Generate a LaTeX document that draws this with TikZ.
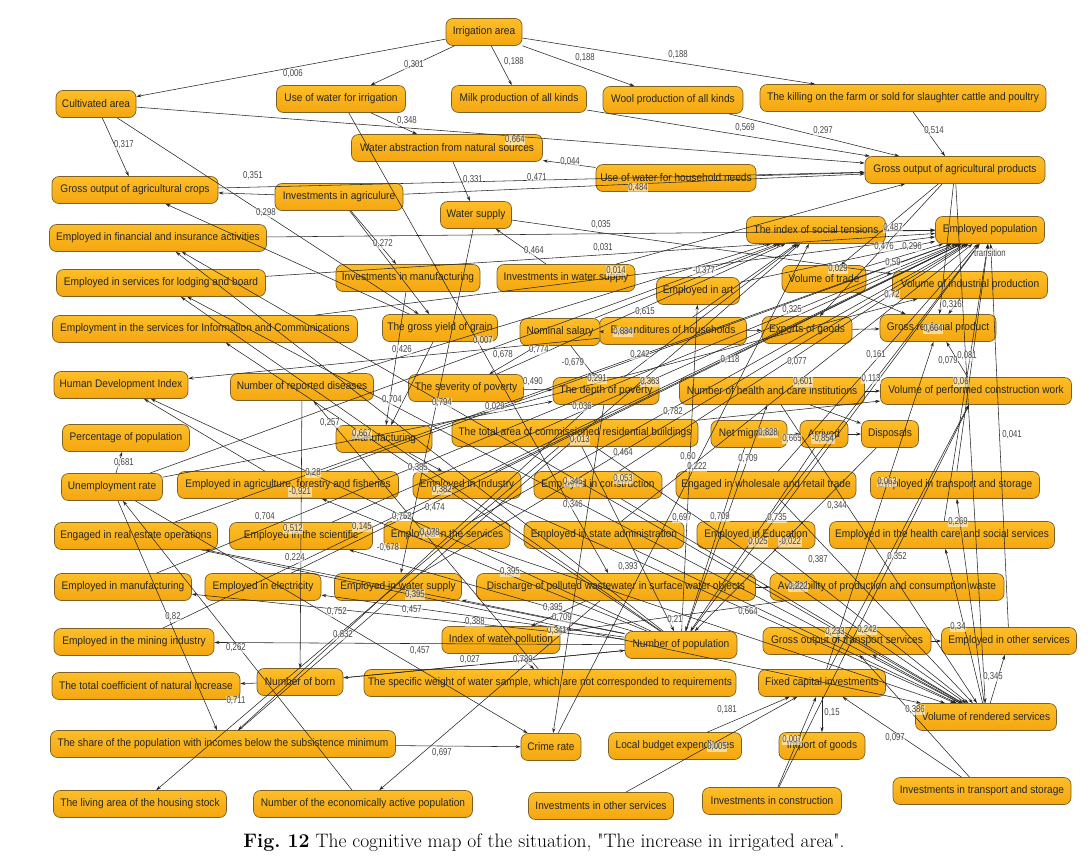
\documentclass[tikz,border=0pt]{standalone}
\usepackage{fontspec}
\usepackage{graphicx}
\newfontfamily\nodefont[FakeStretch=0.92]{Liberation Sans}
\newfontfamily\labfont[FakeStretch=0.78]{Liberation Sans}
\usetikzlibrary{arrows.meta}
\definecolor{boxtop}{RGB}{253,190,40}
\definecolor{boxbot}{RGB}{244,166,16}
\definecolor{boxline}{RGB}{125,95,40}
\definecolor{labgray}{RGB}{70,70,70}
\tikzset{
 nb/.style={draw=boxline, line width=0.7pt, rounded corners=7pt, top color=boxtop, bottom color=boxbot, minimum height=27pt, inner xsep=2pt, inner ysep=2pt, font=\nodefont\fontsize{11}{12}\selectfont, text=black!85},
 e/.style={draw=black!85, line width=0.55pt, -{Stealth[length=5pt,width=3.2pt]}},
 lab/.style={font=\labfont\fontsize{10}{11}\selectfont, text=labgray, inner sep=0.5pt, fill=white, fill opacity=0.55, text opacity=1},
}
\begin{document}
\begin{tikzpicture}[x=1pt,y=-1pt]
\fill[white] (0,0) rectangle (1091,863);
\useasboundingbox (0,0) rectangle (1091,863);
% nodes
\node[nb,minimum width=76pt] (irr) at (484,32) {Irrigation area};
\node[nb,minimum width=80pt] (cult) at (96,104) {Cultivated area};
\node[nb,minimum width=129pt] (usewi) at (341,99) {Use of water for irrigation};
\node[nb,minimum width=135pt] (milk) at (519,99) {Milk production of all kinds};
\node[nb,minimum width=140pt] (wool) at (673,100) {Wool production of all kinds};
\node[nb,minimum width=286pt] (kill) at (903,98) {The killing on the farm or sold for slaughter cattle and poultry};
\node[nb,minimum width=191pt] (wabs) at (447,148) {Water abstraction from natural sources};
\node[nb,minimum width=166pt] (goac) at (135,190) {Gross output of agricultural crops};
\node[nb,minimum width=128pt] (inva) at (339,197) {Investments in agriculure};
\node[nb,minimum width=160pt] (usehh) at (676,178) {Use of water for household needs};
\node[nb,minimum width=180pt] (goap) at (955,170) {Gross output of agricultural products};
\node[nb,minimum width=71pt] (wsup) at (476,215) {Water supply};
\node[nb,minimum width=217pt] (fin) at (158,238) {Employed in financial and insurance activities};
\node[nb,minimum width=139pt] (ist) at (816,230) {The index of social tensions};
\node[nb,minimum width=109pt] (emppop) at (990,230) {Employed population};
\node[nb,minimum width=209pt] (lodg) at (161,283) {Employed in services for lodging and board};
\node[nb,minimum width=144pt] (invman) at (408,278) {Investments in manufacturing};
\node[nb,minimum width=138pt] (invws) at (566,278) {Investments in water supply};
\node[nb,minimum width=83pt] (art) at (698,291) {Employed in art};
\node[nb,minimum width=84pt] (trade) at (824,279) {Volume of trade};
\node[nb,minimum width=155pt] (vip) at (970,285) {Volume of industrial production};
\node[nb,minimum width=305pt] (info) at (205,329) {Employment in the services for Information and Communications};
\node[nb,minimum width=115pt] (grain) at (440,328) {The gross yield of grain};
\node[nb,minimum width=147pt] (exph) at (673,331) {Expenditures of households};
\node[nb,minimum width=80pt] (salary) at (560,332) {Nominal salary};
\node[nb,minimum width=90pt] (exports) at (807,330) {Exports of goods};
\node[nb,minimum width=116pt] (grp) at (938,328) {Gross regional product};
\node[nb,minimum width=134pt] (hdi) at (121,385) {Human Development Index};
\node[nb,minimum width=143pt] (dis) at (302,387) {Number of reported diseases};
\node[nb,minimum width=115pt] (sev) at (466,388) {The severity of poverty};
\node[nb,minimum width=106pt] (depth) at (606,391) {The depth of poverty};
\node[nb,minimum width=185pt] (hci) at (772,391) {Number of health and care institutions};
\node[nb,minimum width=191pt] (vpcw) at (976,391) {Volume of performed construction work};
\node[nb,minimum width=127pt] (pct) at (126,438) {Percentage of population};
\node[nb,minimum width=96pt] (manf) at (384,439) {Manufacturing};
\node[nb,minimum width=246pt] (tacr) at (575,433) {The total area of commissioned residential buildings};
\node[nb,minimum width=76pt] (netm) at (749,434) {Net migration};
\node[nb,minimum width=48pt] (arr) at (824,434) {Arrived};
\node[nb,minimum width=57pt] (disp) at (890,434) {Disposals};
\node[nb,minimum width=101pt] (unemp) at (112,487) {Unemployment rate};
\node[nb,minimum width=221pt] (eagri) at (288,485) {Employed in agriculture, forestry and fisheries};
\node[nb,minimum width=108pt] (eind) at (467,485) {Employed in Industry};
\node[nb,minimum width=128pt] (econst) at (598,485) {Employed in construction};
\node[nb,minimum width=180pt] (wret) at (766,485) {Engaged in wholesale and retail trade};
\node[nb,minimum width=169pt] (etrans) at (955,485) {Employed in transport and storage};
\node[nb,minimum width=163pt] (realest) at (136,536) {Engaged in real estate operations};
\node[nb,minimum width=143pt] (esci) at (301,536) {Employed in the scientific};
\node[nb,minimum width=126pt] (eserv) at (447,535) {Employed in the services};
\node[nb,minimum width=160pt] (estate) at (604,535) {Employed in state administration};
\node[nb,minimum width=118pt] (eedu) at (756,535) {Employed in Education};
\node[nb,minimum width=225pt] (ehealth) at (942,535) {Employed in the health care and social services};
\node[nb,minimum width=137pt] (emanuf) at (123,587) {Employed in manufacturing};
\node[nb,minimum width=116pt] (eelec) at (263,587) {Employed in electricity};
\node[nb,minimum width=127pt] (ewater) at (398,587) {Employed in water supply};
\node[nb,minimum width=279pt] (dischg) at (616,587) {Discharge of polluted wastewater in surface water objects};
\node[nb,minimum width=234pt] (waste) at (887,587) {Availability of production and consumption waste};
\node[nb,minimum width=160pt] (emining) at (134,642) {Employed in the mining industry};
\node[nb,minimum width=118pt] (iwp) at (501,640) {Index of water pollution};
\node[nb,minimum width=112pt] (numpop) at (681,645) {Number of population};
\node[nb,minimum width=168pt] (gots) at (847,641) {Gross output of transport services};
\node[nb,minimum width=135pt] (eoth) at (1009,641) {Employed in other services};
\node[nb,minimum width=188pt] (tcni) at (146,686) {The total coefficient of natural increase};
\node[nb,minimum width=86pt] (born) at (300,682) {Number of born};
\node[nb,minimum width=372pt] (spw) at (550,683) {The specific weight of water sample, which are not corresponded to requirements};
\node[nb,minimum width=127pt] (fci) at (822,683) {Fixed capital investments};
\node[nb,minimum width=141pt] (vrs) at (986,717) {Volume of rendered services};
\node[nb,minimum width=345pt] (share) at (223,744) {The share of the population with incomes below the subsistence minimum};
\node[nb,minimum width=60pt] (crime) at (551,747) {Crime rate};
\node[nb,minimum width=133pt] (lbe) at (675,746) {Local budget expenditures};
\node[nb,minimum width=86pt] (imp) at (822,746) {Import of goods};
\node[nb,minimum width=173pt] (living) at (140,804) {The living area of the housing stock};
\node[nb,minimum width=219pt] (econ) at (363,804) {Number of the economically active population};
\node[nb,minimum width=145pt] (invoth) at (601,806) {Investments in other services};
\node[nb,minimum width=139pt] (invcon) at (772,801) {Investments in construction};
\node[nb,minimum width=178pt] (invtr) at (982,791) {Investments in transport and storage};
% connectors
\foreach \a/\b in {
irr/cult, irr/usewi, irr/milk, irr/wool, irr/kill,
cult/goac, cult/goap, cult/grain, grain/goac, inva/goac, goac/goap, inva/goap,
usewi/wabs, wabs/wsup, usehh/wabs, milk/goap, wool/goap, kill/goap, usehh/goap,
usewi/dischg, inva/grain, inva/invman, wsup/vip, invws/wsup, wsup/ewater, invws/goap,
fin/emppop, lodg/emppop, info/emppop, ist/emppop,
art/emppop, trade/emppop, eagri/emppop, eind/emppop, econst/emppop, wret/emppop, etrans/emppop, realest/emppop, esci/emppop, eserv/emppop, estate/emppop, eedu/emppop, ehealth/emppop, emanuf/emppop, eelec/emppop, ewater/emppop, emining/emppop, eoth/emppop,
unemp/ist, sev/ist, depth/ist, salary/ist, exph/ist, crime/ist, share/ist,
goap/trade, goap/exports, goap/grp, goap/vrs,
vip/grp, trade/grp, exports/grp, vpcw/grp, fci/grp,
salary/exph, exph/exports, salary/sev, salary/depth, exph/hdi, sev/depth, grain/manf, invman/manf, manf/eind, manf/vip,
hci/vpcw, hci/disp, netm/arr, arr/disp, netm/numpop, arr/numpop, disp/numpop,
tacr/living, tacr/vpcw, tacr/numpop,
dis/born, spw/dis, dischg/iwp, iwp/spw, waste/iwp, dischg/waste,
numpop/fin, numpop/lodg, numpop/info, numpop/hdi, numpop/emanuf, numpop/emining, numpop/born, numpop/eagri, numpop/esci, numpop/realest, numpop/eelec, numpop/ewater, numpop/emppop, numpop/hci, numpop/art,
vrs/fin, vrs/lodg, vrs/eoth, vrs/etrans, vrs/ehealth, vrs/gots,
eserv/vrs, wret/vrs, econst/vrs, hci/vrs, eedu/vrs, estate/vrs, tacr/vrs, eind/vrs,
lbe/fci, invoth/fci, invcon/fci, invtr/fci, fci/imp, fci/vpcw,
gots/eoth, invtr/gots, invcon/vpcw,
born/tcni, born/numpop, share/crime, unemp/share, unemp/pct, econ/unemp, depth/crime, unemp/crime, depth/share, dischg/econ,
dis/ist, unemp/depth, eagri/hdi, realest/vrs}
 \draw[e] (\a) -- (\b);
% labels
\foreach \x/\y/\t [count=\i] in {
293/74/{0,006}, 414/65/{0,301}, 514/62/{0,188}, 585/58/{0,188}, 678/55/{0,188},
124/145/{0,317}, 407/121/{0,348}, 515/140/{0,664}, 745/128/{0,569}, 823/131/{0,297}, 934/131/{0,514},
570/162/{0,044}, 253/176/{0,351}, 473/180/{0,331}, 537/178/{0,471}, 638/188/{0,484},
266/213/{0,298}, 383/244/{0,272}, 601/225/{0,035}, 603/248/{0,031}, 534/251/{0,464}, 616/271/{0,014}, 704/271/{-0,377},
893/228/{0,487}, 884/247/{0,476}, 912/247/{0,296}, 893/263/{0,59}, 838/269/{0,029}, 990/253/{transition},
645/312/{0,615}, 623/332/{0,884}, 483/341/{0,007}, 402/350/{0,426}, 503/355/{0,678}, 539/350/{0,774}, 573/363/{-0,679}, 640/355/{0,242},
533/382/{0,490}, 597/379/{0,291}, 650/382/{0,363}, 392/400/{0,704}, 442/403/{0,794}, 495/407/{0,029}, 582/407/{0,036}, 673/412/{0,782},
580/440/{0,013}, 418/468/{0,385}, 623/453/{0,464}, 442/490/{0,382}, 573/482/{0,345}, 623/479/{0,053}, 573/505/{0,346}, 435/508/{0,474},
402/517/{0,752}, 430/533/{0,078}, 388/548/{-0,678}, 682/518/{0,697}, 688/457/{0,60}, 697/467/{0,222},
124/463/{0,681}, 313/473/{0,28}, 300/492/{-0,921}, 265/517/{0,704}, 293/529/{0,512}, 362/527/{0,145}, 295/558/{0,224}, 330/423/{0,257}, 362/434/{0,667},
892/295/{0,72}, 952/305/{0,316}, 792/310/{0,325}, 933/329/{0,664}, 876/355/{0,161}, 948/361/{0,079}, 967/356/{0,081}, 871/379/{0,113}, 961/382/{0,06},
730/360/{0,118}, 797/362/{0,077}, 803/382/{0,601}, 1012/435/{0,041}, 768/433/{0,828}, 792/439/{0,665}, 823/439/{-0,854},
748/459/{0,709}, 887/482/{0,063}, 837/506/{0,344}, 777/518/{0,735}, 720/517/{0,709}, 958/522/{0,269}, 758/542/{0,025}, 790/542/{-0,022}, 818/560/{0,387}, 897/557/{0,352},
510/572/{0,395}, 628/567/{0,393}, 415/595/{0,395}, 412/610/{0,457}, 553/608/{0,395}, 562/618/{0,709}, 475/622/{0,388}, 675/620/{0,21}, 557/631/{0,341},
420/651/{0,457}, 470/660/{0,027}, 523/660/{0,789}, 442/753/{0,697}, 727/710/{0,181}, 717/747/{0,005},
798/587/{0,222}, 748/612/{0,664}, 835/632/{0,233}, 867/630/{0,242}, 958/627/{0,34}, 993/677/{0,345}, 915/710/{0,386}, 832/713/{0,15}, 792/740/{0,007}, 895/738/{0,097},
173/617/{0,82}, 337/612/{0,752}, 343/635/{0,832}, 236/648/{0,262}, 236/701/{0,711}}
 \node[lab] (lab\i) at (\x,\y) {\t};
% caption
\node (cap) at (544,843) {\fontsize{19.5}{22}\selectfont\textbf{Fig.\ 12} The cognitive map of the situation, \textquotedbl The increase in irrigated area\textquotedbl.};
\end{tikzpicture}
\end{document}
